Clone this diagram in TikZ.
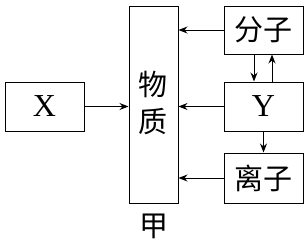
\documentclass[tikz,border=0pt]{standalone}
\usepackage{fontspec}
\setmainfont{Liberation Serif}
\newfontfamily\cjk{Noto Sans CJK SC}
\usetikzlibrary{arrows.meta}
\tikzset{
  box/.style={draw,line width=1pt,inner sep=0pt,minimum width=79pt},
  cn/.style={font=\cjk\fontsize{29}{37}\selectfont},
}
\begin{document}
\begin{tikzpicture}[>={Stealth[length=9pt,width=7pt]},x=1pt,y=-1pt,line width=1pt]
  \useasboundingbox (0,0) rectangle (307,242);
  % central column
  \node[box,minimum width=49pt,minimum height=197pt] (wz) at (153.5,104.5) {};
  \node[cn,align=center] (wzt) at (153,103) {物\\质};
  \node[cn,inner sep=0pt] (jia) at (154,226) {甲};

  % boxes
  \node[box,minimum height=49pt,font=\fontsize{32}{32}\selectfont] (X) at (44.5,106.5) {X};
  \node[box,cn,minimum height=48pt] (fz) at (263.5,30) {分子};
  \node[box,minimum height=49pt,font=\fontsize{32}{32}\selectfont] (Y) at (263.5,106.5) {Y};
  \node[box,cn,minimum height=50pt] (lz) at (263.5,178) {离子};

  % arrows into the column
  \draw[->] (X.east) -- (X.east -| wz.west);
  \draw[->] (fz.west) -- (fz.west -| wz.east);
  \draw[->] (Y.west) -- (Y.west -| wz.east);
  \draw[->] (lz.west) -- (lz.west -| wz.east);

  % between the right boxes
  \draw[->] ([xshift=-9.5pt]fz.south) -- ([xshift=-9.5pt]Y.north);
  \draw[->] ([xshift=8.5pt]Y.north) -- ([xshift=8.5pt]fz.south);
  \draw[->] (Y.south) -- (lz.north);
\end{tikzpicture}
\end{document}
